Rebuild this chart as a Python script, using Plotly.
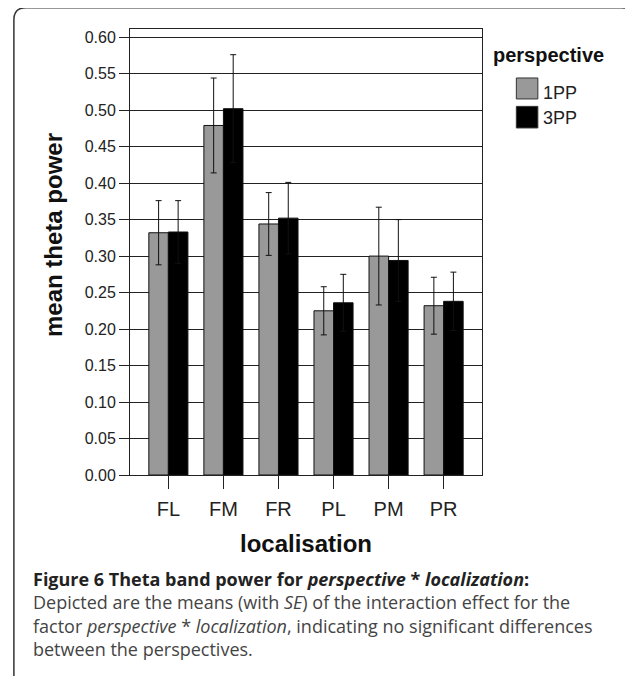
import plotly.graph_objects as go

categories = ["FL", "FM", "FR", "PL", "PM", "PR"]
mean_1pp = [0.332, 0.479, 0.344, 0.225, 0.300, 0.232]
mean_3pp = [0.333, 0.502, 0.352, 0.236, 0.294, 0.238]
se_1pp = [0.044, 0.065, 0.043, 0.033, 0.067, 0.039]
se_3pp = [0.043, 0.074, 0.049, 0.039, 0.056, 0.040]
y_ticks = [0.00, 0.05, 0.10, 0.15, 0.20, 0.25, 0.30, 0.35, 0.40, 0.45, 0.50, 0.55, 0.60]
y_ticklabels = [f"{v:.2f}" for v in y_ticks]
series_names = ["1PP", "3PP"]
series_colors = ["#999999", "#000000"]

# page body has an 8px default margin; the figure is sized to fill the window
OFF = 8
W, H = 633 - OFF, 676 - OFF
L, T = 130 - OFF, 29.3 - OFF
R = W - (481.7 - OFF)
B = H - (475.5 - OFF)
PW, PH = W - L - R, H - T - B

def px(x):  # window pixel -> paper
    return (x - OFF - L) / PW

def py(y):
    return (H - B - (y - OFF)) / PH

fig = go.Figure()
for name, vals, errs, col in zip(series_names, [mean_1pp, mean_3pp], [se_1pp, se_3pp], series_colors):
    fig.add_trace(go.Bar(
        x=categories, y=vals, name=name,
        marker=dict(color=col, line=dict(color="#111111", width=1)),
        error_y=dict(type="data", array=errs, visible=True, color="#111111", thickness=1, width=3),
        showlegend=False,
    ))

shapes = []
frame = (f"M {px(14)},{py(690)} L {px(14)},{py(20)} Q {px(14)},{py(8)} {px(26)},{py(8)} "
         f"L {px(621)},{py(8)} Q {px(632)},{py(8)} {px(632)},{py(19)} L {px(632)},{py(690)}")
shapes.append(dict(type="path", xref="paper", yref="paper", path=frame,
                   line=dict(color="#333333", width=1.5)))
shapes.append(dict(type="rect", xref="paper", yref="paper",
                   x0=px(516), x1=px(537.5), y0=py(99.3), y1=py(78.3),
                   fillcolor=series_colors[0], line=dict(color="#333333", width=1)))
shapes.append(dict(type="rect", xref="paper", yref="paper",
                   x0=px(516), x1=px(537.5), y0=py(128.3), y1=py(106.7),
                   fillcolor=series_colors[1], line=dict(color="#333333", width=1)))

annotations = [
    dict(text="<b>mean theta power</b>", x=px(53), y=py(235.5), xref="paper", yref="paper",
         xanchor="center", yanchor="middle", textangle=-90, showarrow=False,
         font=dict(family="Liberation Sans, Arial", size=24, color="#111111")),
    dict(text="<b>perspective</b>", x=px(491), y=py(55), xref="paper", yref="paper",
         xanchor="left", yanchor="middle", showarrow=False,
         font=dict(family="Liberation Sans, Arial", size=20, color="#111111")),
    dict(text=series_names[0], x=px(541), y=py(93), xref="paper", yref="paper",
         xanchor="left", yanchor="middle", showarrow=False,
         font=dict(family="Liberation Sans, Arial", size=18, color="#222222")),
    dict(text=series_names[1], x=px(541), y=py(118), xref="paper", yref="paper",
         xanchor="left", yanchor="middle", showarrow=False,
         font=dict(family="Liberation Sans, Arial", size=18, color="#222222")),
]

caption_lines = [
    '<span style="color:#222222"><b>Figure 6 Theta band power for <i>perspective</i> * <i>localization</i>:</b></span>',
    "Depicted are the means (with <i>SE</i>) of the interaction effect for the",
    "factor <i>perspective</i> * <i>localization</i>, indicating no significant differences",
    "between the perspectives.",
]
annotations.append(dict(text="<br>".join(caption_lines), x=px(31), y=py(614.75),
                        xref="paper", yref="paper", xanchor="left", yanchor="middle",
                        align="left", showarrow=False,
                        font=dict(family="Open Sans", size=18, color="#444444")))

fig.update_layout(
    width=W, height=H,
    margin=dict(l=L, r=R, t=T, b=B, autoexpand=False),
    paper_bgcolor="white", plot_bgcolor="white",
    barmode="group", bargap=0.29, bargroupgap=0,
    font=dict(family="Liberation Sans, Arial", color="#222222"),
    shapes=shapes, annotations=annotations,
)
fig.update_xaxes(
    type="category", range=[-0.697, 5.697],
    showline=True, linecolor="#222222", linewidth=1, mirror=True,
    ticks="outside", ticklen=13, tickcolor="#222222", tickwidth=1,
    tickfont=dict(size=20, color="#222222"), ticklabelstandoff=3,
    showgrid=False, zeroline=False,
    title=dict(text="<b>localisation</b>", font=dict(size=24, color="#111111"), standoff=16),
)
fig.update_yaxes(
    range=[0, 0.6112], tickvals=y_ticks, ticktext=y_ticklabels,
    showline=True, linecolor="#222222", linewidth=1, mirror=True,
    ticks="outside", ticklen=10, tickcolor="#222222", tickwidth=1,
    tickfont=dict(size=16, color="#222222"),
    showgrid=True, gridcolor="#222222", gridwidth=1, zeroline=False,
)

fig.write_html("out.html")
